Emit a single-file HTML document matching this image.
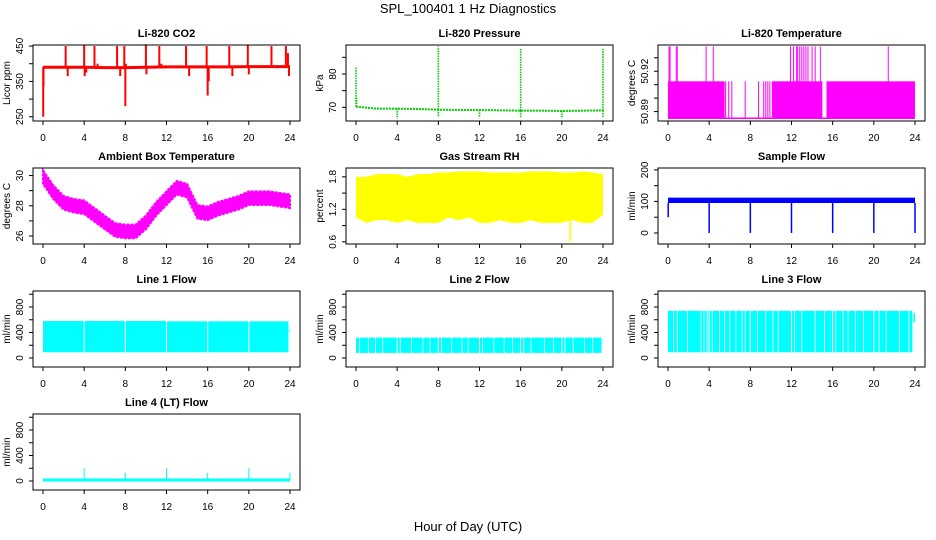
<!DOCTYPE html>
<html><head><meta charset="utf-8"><style>
html,body{margin:0;padding:0;background:#fff;}
svg{display:block;font-family:"Liberation Sans",Arial,sans-serif;}
</style></head><body>
<svg id="c" width="936" height="540" viewBox="0 0 936 540">
<text x="468" y="13" text-anchor="middle" font-size="13">SPL_100401  1 Hz Diagnostics</text>
<text x="468" y="531" text-anchor="middle" font-size="13">Hour of Day (UTC)</text>
</svg>
<script>
// ---- data arrays ----
const xTicks = [0,4,8,12,16,20,24];
const co2Hours = [0,2,4,6,8,10,12,14,16,18,20,22,24];
const co2Base = [390,390,390,389,389,390,391,391,391,391,392,392,392];
const co2SpikeH = [0.02,0.05,2.2,2.4,4.0,4.05,4.2,5.0,5.3,7.2,7.5,7.9,8.0,8.05,10.0,10.05,11.3,11.5,13.9,14.2,15.9,16.0,16.1,18.1,18.4,19.9,20.0,22.2,23.6,23.8,23.9];
const co2SpikeV = [250,335,450,365,452,365,375,450,400,450,365,450,280,400,455,370,450,400,450,365,450,310,350,450,365,452,370,450,450,430,365];
const presHours = [0,2,4,6,8,10,12,14,16,18,20,22,24];
const presBase = [70.2,69.6,69.6,69.5,69.3,69.2,69.2,69.1,69.0,69.0,68.9,69.0,69.1];
const presSpikeH = [0,0.05,8,16,24,4,8,12,16,20,24];
const presSpikeV = [82,73,88.3,87.8,87.8,67,67,67,67,67,67];
const ltBandStart = [0,10.1,15.4];
const ltBandEnd = [5.5,15.0,24];
const ltLow = 50.885, ltHigh = 50.9125, ltMax = 50.9385;
const ltSparseH = [5.6,5.9,6.2,7.5,8.8,9.3,9.5,9.7,9.9];
const ltSpikeH = [0.1,0.2,0.8,0.9,3.7,4.4,11.9,12.2,12.5,12.6,12.8,13.0,13.2,13.4,13.6,14.0,14.3,14.8,21.4];
const hours = [0,1,2,3,4,5,6,7,8,9,10,11,12,13,14,15,16,17,18,19,20,21,22,23,24];
const ambMid = [29.9,28.9,28.2,28.0,27.9,27.4,26.9,26.4,26.3,26.3,26.9,27.8,28.5,29.2,29.0,27.6,27.5,27.8,28.0,28.2,28.5,28.5,28.5,28.4,28.3];
const rhHigh = [1.8,1.8,1.85,1.85,1.85,1.8,1.85,1.85,1.88,1.88,1.9,1.9,1.9,1.88,1.88,1.88,1.88,1.9,1.9,1.9,1.88,1.88,1.9,1.88,1.85];
const rhLow = [1.05,0.95,1.0,1.0,0.95,1.0,0.95,0.95,0.95,1.05,1.0,1.05,0.95,0.95,1.0,0.95,0.95,1.0,0.95,0.95,0.95,1.0,0.95,0.95,1.1];
const rhDipH = [20.8], rhDipV = [0.6];
const sfLow = 95, sfHigh = 112;
const sfDipH = [0.02,4,8,12,16,20,24];
const sfDipV = [50,0,0,0,0,0,0];
const l1Start = [0,4.05,8.05,12.05,16.05,20.05,23.95];
const l1End = [3.95,7.95,11.95,15.95,19.95,23.85,24.0];
const l1High = [580,580,580,575,575,575,460];
const l1Low = [90,90,90,90,90,90,400];
const l2Start = [0,4.05,8.05,12.05,16.05,20.05,23.95];
const l2End = [3.95,7.95,11.95,15.95,19.95,23.85,24.0];
const l2High = [320,320,320,320,320,320,270];
const l2Low = [80,80,80,80,80,80,230];
const l2Gaps = [0.35,1.2,1.9,2.6,4.3,5.4,6.5,7.2,8.3,9.3,10.3,10.9,12.3,13.4,14.4,15.2,16.3,17.0,18.3,19.2,20.3,21.1,22.2,23.0];
const l3Start = [0,4.05,8.05,12.05,16.05,20.05,23.85];
const l3End = [3.95,7.95,11.95,15.95,19.95,23.75,24.0];
const l3High = [740,740,740,740,740,740,700];
const l3Low = [90,90,90,90,90,90,560];
const l3Gaps = [0.55,0.9,1.9,3.2,3.5,3.8,4.3,5.0,5.5,6.0,6.6,7.2,7.5,8.7,9.5,10.2,10.7,12.3,13.0,14.3,15.2,16.3,17.0,17.5,18.2,19.0,20.5,21.2,22.5,23.4];
const l4Base = 15;
const l4SpikeH = [4,8,12,16,20,24];
const l4SpikeV = [200,130,200,130,200,130];

const svg = document.getElementById('c');
const NS = 'http://www.w3.org/2000/svg';
function mk(tag, attrs, parent){const e=document.createElementNS(NS,tag);for(const k in attrs)e.setAttribute(k,attrs[k]);(parent||svg).appendChild(e);return e;}
const colL=[33,346,658], rowT=[45,168,291,414], W=267, H=76;

function panel(col,row,title,ylab,ymin,ymax,ticks,labels,name){
  const L=colL[col], T=rowT[row], B=T+H;
  const g=mk('g',{});
  
  
  const xs=h=>L+10+h/24*247;
  const ys=v=>B-(v-ymin)/(ymax-ymin)*H;
  const t=mk('text',{x:L+W/2,y:T-8,'text-anchor':'middle','font-size':11,'font-weight':'bold'},g);
  t.textContent=title;
  
  
  const plot=mk('g',{},g);
  
  
  const box=mk('rect',{x:L,y:T,width:W,height:H,fill:'none',stroke:'#000','stroke-width':1},g);
  
  
  const xa=mk('g',{},g);
  
  
  mk('line',{x1:xs(0),x2:xs(24),y1:B,y2:B,stroke:'#000'},xa);
  xTicks.forEach(v=>{mk('line',{x1:xs(v),x2:xs(v),y1:B,y2:B+4,stroke:'#000'},xa);
    const tx=mk('text',{x:xs(v),y:B+20,'text-anchor':'middle','font-size':10},xa);tx.textContent=v;});
  const ya=mk('g',{},g);
  
  
  mk('line',{x1:L,x2:L,y1:ys(ticks[0]),y2:ys(ticks[ticks.length-1]),stroke:'#000'},ya);
  ticks.forEach(v=>{mk('line',{x1:L-4,x2:L,y1:ys(v),y2:ys(v),stroke:'#000'},ya);});
  labels.forEach(v=>{const yy=ys(+v);const tx=mk('text',{x:0,y:0,'text-anchor':'middle','font-size':10,transform:`translate(${L-10},${yy}) rotate(-90)`},ya);tx.textContent=v;});
  const yl=mk('text',{x:0,y:0,'text-anchor':'middle','font-size':10,transform:`translate(${L-23},${T+H/2}) rotate(-90)`},g);
  yl.textContent=ylab;
  
  
  return {xs,ys,plot};
}
function vline(p,x,y1,y2,c,w,extra){const a={x1:x,x2:x,y1:y1,y2:y2,stroke:c,'stroke-width':w||1};Object.assign(a,extra||{});return mk('line',a,p);}
function rect(p,x1,x2,y1,y2,c){return mk('rect',{x:Math.min(x1,x2),y:Math.min(y1,y2),width:Math.abs(x2-x1),height:Math.abs(y2-y1),fill:c},p);}

// CO2
{const P=panel(0,0,'Li-820 CO2','Licor ppm',238,453,[250,300,350,400,450],['250','350','450'],'co2');
 co2SpikeH.forEach((h,i)=>vline(P.plot,P.xs(h),P.ys(co2Base[Math.round(h/2)]),P.ys(co2SpikeV[i]),'#f00',2));
 mk('polyline',{points:co2Hours.map((h,i)=>P.xs(h)+','+P.ys(co2Base[i])).join(' '),fill:'none',stroke:'#f00','stroke-width':3},P.plot);}
// Pressure
{const P=panel(1,0,'Li-820 Pressure','kPa',65.9,88.7,[70,75,80,85],['70','80'],'pressure');
 mk('polyline',{points:presHours.map((h,i)=>P.xs(h)+','+P.ys(presBase[i])).join(' '),fill:'none',stroke:'#0c0','stroke-width':2,'stroke-dasharray':'2 1'},P.plot);
 presSpikeH.forEach((h,i)=>vline(P.plot,P.xs(h),P.ys(presBase[Math.round(h/2)]),P.ys(presSpikeV[i]),'#0c0',1.6,{'stroke-dasharray':'1.5 1'}));}
// Li-820 temp
{const P=panel(2,0,'Li-820 Temperature','degrees C',50.883,50.9395,[50.89,50.90,50.91,50.92,50.93],['50.89','50.92'],'li820-temp');
 ltBandStart.forEach((s,i)=>rect(P.plot,P.xs(s),P.xs(ltBandEnd[i]),P.ys(ltLow),P.ys(ltHigh),'#f0f'));
 mk('line',{x1:P.xs(0),x2:P.xs(24),y1:P.ys(ltLow),y2:P.ys(ltLow),stroke:'#f0f','stroke-width':1.5},P.plot);
 ltSparseH.forEach(h=>vline(P.plot,P.xs(h),P.ys(ltLow),P.ys(ltHigh),'#f0f',1));
 ltSpikeH.forEach(h=>vline(P.plot,P.xs(h),P.ys(ltLow),P.ys(ltMax),'#f0f',1));}
// Ambient
{const P=panel(0,1,'Ambient Box Temperature','degrees C',25.47,30.5,[26,27,28,29,30],['26','28','30'],'ambient-temp');
 const top=hours.map((h,i)=>P.xs(h)+','+P.ys(ambMid[i]+0.45));
 const bot=hours.map((h,i)=>P.xs(h)+','+P.ys(ambMid[i]-0.45)).reverse();
 mk('polygon',{points:top.concat(bot).join(' '),fill:'#f0f',stroke:'#f0f','stroke-width':2,'stroke-dasharray':'3 1'},P.plot);}
// RH
{const P=panel(1,1,'Gas Stream RH','percent',0.56,1.963,[0.6,0.9,1.2,1.5,1.8],['0.6','1.2','1.8'],'gas-rh');
 const top=hours.map((h,i)=>P.xs(h)+','+P.ys(rhHigh[i]));
 const bot=hours.map((h,i)=>P.xs(h)+','+P.ys(rhLow[i])).reverse();
 mk('polygon',{points:top.concat(bot).join(' '),fill:'#ff0'},P.plot);
 rhDipH.forEach((h,i)=>vline(P.plot,P.xs(h),P.ys(1.0),P.ys(rhDipV[i]),'#ff0',1.5));}
// Sample flow
{const P=panel(2,1,'Sample Flow','ml/min',-35,206,[0,50,100,150,200],['0','100','200'],'sample-flow');
 rect(P.plot,P.xs(0),P.xs(24),P.ys(sfLow),P.ys(sfHigh),'#00f');
 sfDipH.forEach((h,i)=>vline(P.plot,P.xs(h),P.ys(sfLow),P.ys(sfDipV[i]),'#00f',1.5));}
// Flow panels
function flowPanel(col,row,title,name,st,en,hi,lo,gaps){
  const P=panel(col,row,title,'ml/min',-141,1051,[0,200,400,600,800,1000],['0','400','800'],name);
  st.forEach((s,i)=>rect(P.plot,P.xs(s),P.xs(en[i]),P.ys(lo[i]),P.ys(hi[i]),'#0ff'));
  (gaps||[]).forEach(h=>vline(P.plot,P.xs(h),P.ys(lo[0]),P.ys(hi[0]),'#fff',0.8));
}
flowPanel(0,2,'Line 1 Flow','line1-flow',l1Start,l1End,l1High,l1Low,[]);
flowPanel(1,2,'Line 2 Flow','line2-flow',l2Start,l2End,l2High,l2Low,l2Gaps);
flowPanel(2,2,'Line 3 Flow','line3-flow',l3Start,l3End,l3High,l3Low,l3Gaps);
{const P=panel(0,3,'Line 4 (LT) Flow','ml/min',-141,1051,[0,200,400,600,800,1000],['0','400','800'],'line4-flow');
 mk('line',{x1:P.xs(0),x2:P.xs(24),y1:P.ys(l4Base),y2:P.ys(l4Base),stroke:'#0ff','stroke-width':3},P.plot);
 l4SpikeH.forEach((h,i)=>vline(P.plot,P.xs(h),P.ys(l4Base),P.ys(l4SpikeV[i]),'#0ff',1));}
</script>
</body></html>
